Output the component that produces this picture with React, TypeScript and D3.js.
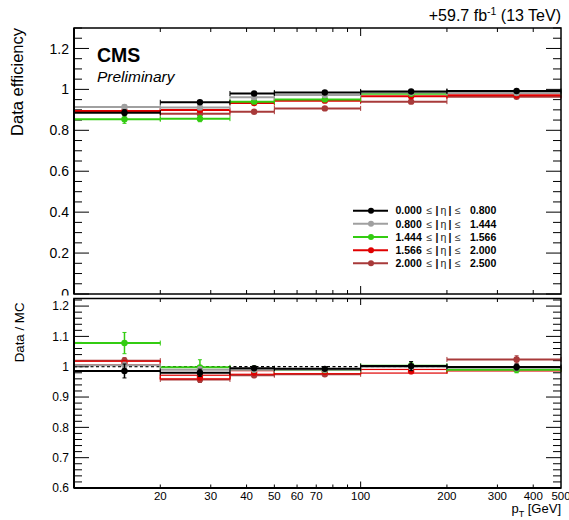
import React from "react";
import * as d3 from "d3";

// ---------------- data ----------------
const binEdges = [10, 20, 35, 50, 100, 200, 500];
const etaLow = ["0.000", "0.800", "1.444", "1.566", "2.000"];
const etaHigh = ["0.800", "1.444", "1.566", "2.000", "2.500"];
const seriesColors = ["#000000", "#a0a0a0", "#33cc11", "#e00000", "#a83a3a"];

// data efficiency per eta bin
const effEta0 = [0.886, 0.937, 0.980, 0.985, 0.990, 0.992];
const effEta1 = [0.914, 0.912, 0.962, 0.972, 0.985, 0.982];
const effEta2 = [0.854, 0.857, 0.940, 0.951, 0.979, 0.984];
const effEta3 = [0.894, 0.899, 0.933, 0.945, 0.966, 0.971];
const effEta4 = [0.890, 0.881, 0.891, 0.907, 0.940, 0.964];
const effErr0 = [0.015, 0.008, 0.005, 0.004, 0.005, 0.005];
const effErr1 = [0.010, 0.008, 0.005, 0.004, 0.005, 0.005];
const effErr2 = [0.020, 0.015, 0.008, 0.005, 0.008, 0.008];
const effErr3 = [0.010, 0.008, 0.006, 0.004, 0.006, 0.006];
const effErr4 = [0.010, 0.008, 0.006, 0.005, 0.008, 0.008];

// data / MC ratio per eta bin
const sfEta0 = [0.986, 0.980, 0.995, 0.993, 1.002, 0.999];
const sfEta1 = [1.005, 0.990, 0.990, 0.990, 1.000, 0.997];
const sfEta2 = [1.078, 0.998, 0.992, 0.989, 1.003, 0.990];
const sfEta3 = [1.012, 0.966, 0.981, 0.983, 0.985, 0.992];
const sfEta4 = [1.020, 0.958, 0.972, 0.975, 0.988, 1.024];
const sfErr0 = [0.023, 0.012, 0.006, 0.005, 0.015, 0.010];
const sfErr1 = [0.010, 0.010, 0.006, 0.005, 0.010, 0.010];
const sfErr2 = [0.035, 0.025, 0.010, 0.008, 0.010, 0.010];
const sfErr3 = [0.008, 0.010, 0.008, 0.005, 0.008, 0.008];
const sfErr4 = [0.010, 0.010, 0.008, 0.006, 0.010, 0.012];

const effSeries = [effEta0, effEta1, effEta2, effEta3, effEta4];
const effErrs = [effErr0, effErr1, effErr2, effErr3, effErr4];
const sfSeries = [sfEta0, sfEta1, sfEta2, sfEta3, sfEta4];
const sfErrs = [sfErr0, sfErr1, sfErr2, sfErr3, sfErr4];

const topMajorTicks = [0, 0.2, 0.4, 0.6, 0.8, 1.0, 1.2];
const botMajorTicks = [0.6, 0.7, 0.8, 0.9, 1.0, 1.1, 1.2];
const xMinorTicks = [20, 30, 40, 50, 60, 70, 80, 90, 200, 300, 400];
const xMajorTicks = [100];
const xLabelTicks = [20, 30, 40, 50, 60, 70, 100, 200, 300, 400, 500];

// ---------------- layout ----------------
const W = 569;
const H = 520;
const L = 74;
const R = 561;
const topT = 28;
const topB = 294;
const botT = 298.5;
const botB = 488;
const FONT = "'Liberation Sans', Arial, Helvetica, sans-serif";

const x = d3.scaleLog().domain([10, 500]).range([L, R]);
const yTop = d3.scaleLinear().domain([0, 1.3]).range([topB, topT]);
const yBot = d3.scaleLinear().domain([0.6, 1.225]).range([botB, botT]);

const fmt = (v: number) => (Math.abs(v - Math.round(v)) < 1e-9 ? String(Math.round(v)) : v.toFixed(1));

function Series({ vals, errs, color, y, box }: { vals: number[]; errs: number[]; color: string; y: d3.ScaleLinear<number, number>; box?: boolean }) {
  return (
    <g>
      {vals.map((v, i) => {
        const lo = binEdges[i];
        const hi = binEdges[i + 1];
        const cx = x((lo + hi) / 2);
        const x0 = x(lo);
        const x1 = x(hi);
        const cy = y(v);
        const yu = y(v + errs[i]);
        const yd = y(v - errs[i]);
        return (
          <g key={i}>
            {box ? (
              <rect x={x0} y={cy - 1.8} width={x1 - x0} height={3.6} fill="white" stroke={color} strokeWidth={1.2} />
            ) : (
              <line x1={x0} x2={x1} y1={cy} y2={cy} stroke={color} strokeWidth={2} />
            )}
            <line x1={x0} x2={x0} y1={cy - 2.5} y2={cy + 2.5} stroke={color} strokeWidth={1} />
            <line x1={x1} x2={x1} y1={cy - 2.5} y2={cy + 2.5} stroke={color} strokeWidth={1} />
            <line x1={cx} x2={cx} y1={yu} y2={yd} stroke={color} strokeWidth={1.5} />
            <line x1={cx - 2} x2={cx + 2} y1={yu} y2={yu} stroke={color} strokeWidth={1} />
            <line x1={cx - 2} x2={cx + 2} y1={yd} y2={yd} stroke={color} strokeWidth={1} />
            <circle cx={cx} cy={cy} r={3.2} fill={color} />
          </g>
        );
      })}
    </g>
  );
}

function YAxis({ y, majors, minorStep, lo, hi, fontSize, clipId }: { y: d3.ScaleLinear<number, number>; majors: number[]; minorStep: number; lo: number; hi: number; fontSize: number; clipId?: string }) {
  const minors: number[] = [];
  for (let v = lo; v <= hi + 1e-9; v += minorStep) {
    const r = Math.round(v * 1000) / 1000;
    if (!majors.some((m) => Math.abs(m - r) < 1e-6)) minors.push(r);
  }
  return (
    <g>
      {majors.map((m) => (
        <g key={"M" + m}>
          <line x1={L} x2={L + 15} y1={y(m)} y2={y(m)} stroke="#000" strokeWidth={1} />
          <line x1={R} x2={R - 15} y1={y(m)} y2={y(m)} stroke="#000" strokeWidth={1} />
          <text x={L - 5} y={y(m)} dy="0.36em" textAnchor="end" fontSize={fontSize} fontFamily={FONT} fill="#000" clipPath={clipId ? `url(#${clipId})` : undefined}>
            {fmt(m)}
          </text>
        </g>
      ))}
      {minors.map((m) => (
        <g key={"m" + m}>
          <line x1={L} x2={L + 8} y1={y(m)} y2={y(m)} stroke="#000" strokeWidth={1} />
          <line x1={R} x2={R - 8} y1={y(m)} y2={y(m)} stroke="#000" strokeWidth={1} />
        </g>
      ))}
    </g>
  );
}

function XTicks({ yb, yt, minorLen, majorLen }: { yb: number; yt: number; minorLen: number; majorLen: number }) {
  return (
    <g>
      {xMinorTicks.map((t) => (
        <g key={"xm" + t}>
          <line x1={x(t)} x2={x(t)} y1={yb} y2={yb - minorLen} stroke="#000" strokeWidth={1} />
          <line x1={x(t)} x2={x(t)} y1={yt} y2={yt + minorLen} stroke="#000" strokeWidth={1} />
        </g>
      ))}
      {xMajorTicks.map((t) => (
        <g key={"xM" + t}>
          <line x1={x(t)} x2={x(t)} y1={yb} y2={yb - majorLen} stroke="#000" strokeWidth={1} />
          <line x1={x(t)} x2={x(t)} y1={yt} y2={yt + majorLen} stroke="#000" strokeWidth={1} />
        </g>
      ))}
    </g>
  );
}

export default function App() {
  const order = [4, 3, 2, 1, 0];
  const legendY0 = 210.7;
  const legendDy = 13.15;
  return (
    <svg width={W} height={H} style={{ position: "absolute", left: 0, top: 0, background: "#fff" }}>
      <defs>
        <clipPath id="topPadClip">
          <rect x={0} y={0} width={W} height={295.5} />
        </clipPath>
      </defs>
      <rect x={0} y={0} width={W} height={H} fill="#fff" />

      {/* top panel */}
      <YAxis y={yTop} majors={topMajorTicks} minorStep={0.05} lo={0} hi={1.3} fontSize={14} clipId="topPadClip" />
      <XTicks yb={topB} yt={topT} minorLen={4} majorLen={8} />
      {order.map((s) => (
        <Series key={"t" + s} vals={effSeries[s]} errs={effErrs[s]} color={seriesColors[s]} y={yTop} />
      ))}
      <rect x={L} y={topT} width={R - L} height={topB - topT} fill="none" stroke="#000" strokeWidth={1.5} />
      <line x1={L} x2={L} y1={topT} y2={topB} stroke="#000" strokeWidth={2} />

      <text x={97} y={62} fontSize={19.5} fontWeight="bold" fontFamily={FONT}>CMS</text>
      <text x={97} y={82} fontSize={15.5} fontStyle="italic" fontFamily={FONT}>Preliminary</text>
      <text x={561} y={21} textAnchor="end" fontSize={16} fontFamily={FONT}>
        +59.7 fb<tspan dy={-6} fontSize={10.5}>-1</tspan>
        <tspan dy={6}> (13 TeV)</tspan>
      </text>
      <text transform={`translate(23,${topT}) rotate(-90)`} textAnchor="end" fontSize={16.5} fontFamily={FONT}>
        Data efficiency
      </text>

      {/* legend */}
      {[0, 1, 2, 3, 4].map((s) => {
        const ly = legendY0 + s * legendDy;
        return (
          <g key={"lg" + s} fontFamily={FONT} fontSize={10.5}>
            <line x1={353} x2={388} y1={ly} y2={ly} stroke={seriesColors[s]} strokeWidth={2} />
            <circle cx={371} cy={ly} r={3} fill={seriesColors[s]} />
            <text x={395.5} y={ly} dy="0.36em" fontWeight="bold">{etaLow[s]}</text>
            <text x={426.5} y={ly} dy="0.36em" fill="#333">≤</text>
            <text x={435.5} y={ly} dy="0.36em" fontWeight="bold">|</text>
            <text x={440.5} y={ly} dy="0.36em" fill="#222">η</text>
            <text x={448.5} y={ly} dy="0.36em" fontWeight="bold">|</text>
            <text x={455} y={ly} dy="0.36em" fill="#333">≤</text>
            <text x={470} y={ly} dy="0.36em" fontWeight="bold">{etaHigh[s]}</text>
          </g>
        );
      })}

      {/* bottom panel */}
      <YAxis y={yBot} majors={botMajorTicks} minorStep={0.02} lo={0.6} hi={1.22} fontSize={12} />
      <XTicks yb={botB} yt={botT} minorLen={3.5} majorLen={6.5} />
      <line x1={L} x2={R} y1={yBot(1)} y2={yBot(1)} stroke="#000" strokeWidth={1.2} strokeDasharray="3,2.5" />
      {order.map((s) => (
        <Series key={"b" + s} vals={sfSeries[s]} errs={sfErrs[s]} color={seriesColors[s]} y={yBot} box={s === 3} />
      ))}
      <rect x={L} y={botT} width={R - L} height={botB - botT} fill="none" stroke="#000" strokeWidth={1.5} />
      <line x1={L} x2={L} y1={botT} y2={botB} stroke="#000" strokeWidth={2} />
      <line x1={L} x2={R} y1={botB} y2={botB} stroke="#000" strokeWidth={2} />
      <text transform={`translate(24,${botT + 4}) rotate(-90)`} textAnchor="end" fontSize={13.3} fontFamily={FONT}>
        Data / MC
      </text>

      {xLabelTicks.map((t) => (
        <text key={"xl" + t} x={x(t)} y={500} textAnchor="middle" fontSize={11.5} fontFamily={FONT}>
          {t}
        </text>
      ))}
      <text x={R} y={513} textAnchor="end" fontSize={13} fontFamily={FONT}>
        p<tspan dy={4} fontSize={9}>T</tspan>
        <tspan dy={-4}>  [GeV]</tspan>
      </text>
    </svg>
  );
}
